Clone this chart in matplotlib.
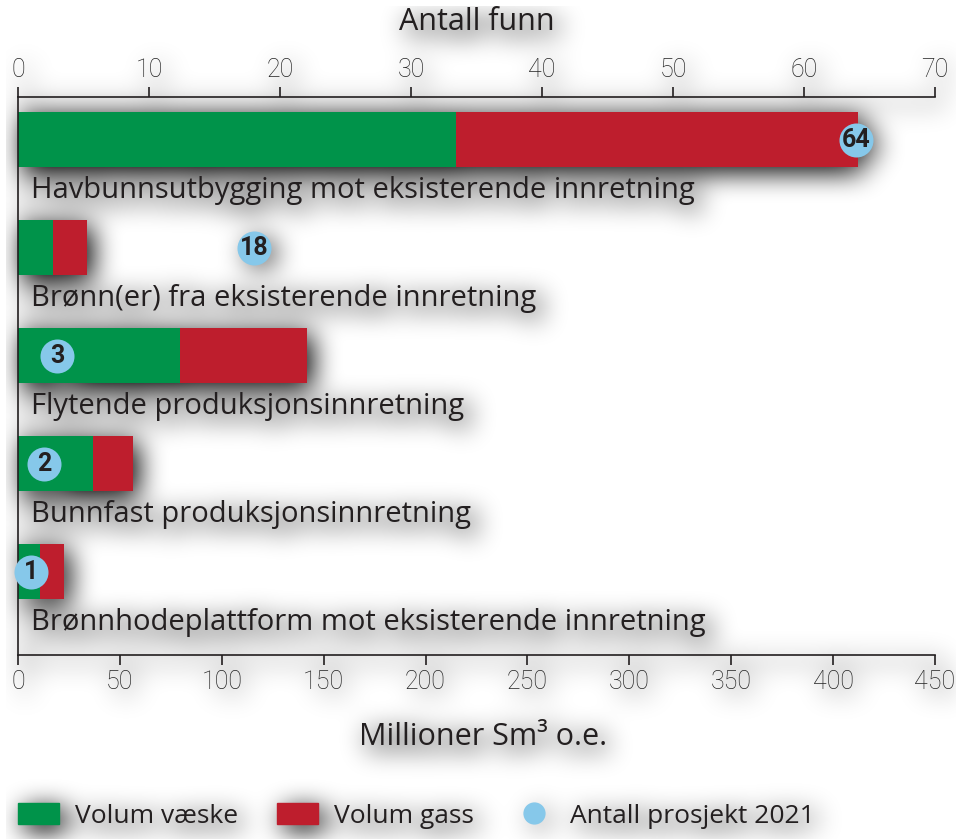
import numpy as np
import matplotlib
matplotlib.use('Agg')
import matplotlib.pyplot as plt
from matplotlib.patches import Patch
from matplotlib.lines import Line2D

# Data lest av figuren
kategorier = ['Havbunnsutbygging mot eksisterende innretning',
              'Brønn(er) fra eksisterende innretning',
              'Flytende produksjonsinnretning',
              'Bunnfast produksjonsinnretning',
              'Brønnhodeplattform mot eksisterende innretning']
volum_vaeske = [215, 17, 79.5, 37, 11]
volum_gass = [197, 17, 62.5, 19.5, 11.5]
antall_prosjekt = [64, 18, 3, 2, 1]
ticks_volum = list(range(0, 451, 50))
ticks_funn = list(range(0, 71, 10))

gronn = '#00934a'
rod = '#be1e2d'
bla = '#86c8ea'
mork = '#231f20'

tekst_font = ['Open Sans', 'DejaVu Sans']
tall_font = ['Roboto', 'DejaVu Sans']

fig = plt.figure(figsize=(9.56, 8.39), dpi=100)
fig.patch.set_facecolor('white')
ax = fig.add_axes([18 / 956, 1 - 655 / 839, 917 / 956, 558 / 839])
ax.set_facecolor('none')

y = np.arange(len(kategorier))
ax.barh(y, volum_vaeske, height=0.51, color=gronn, zorder=2)
ax.barh(y, volum_gass, left=volum_vaeske, height=0.51, color=rod, zorder=2)
for i, k in enumerate(kategorier):
    ax.text(6.5, i + 0.47, k, va='center', ha='left', fontsize=21,
            family=tekst_font, color=mork)

ax.set_xlim(0, 450)
ax.set_ylim(4.77, -0.394)
ax.set_yticks([])
ax.set_xticks(ticks_volum)
ax.spines['right'].set_visible(False)
ax.spines['top'].set_visible(False)
for s in ['left', 'bottom']:
    ax.spines[s].set_linewidth(1.2)
    ax.spines[s].set_color(mork)
ax.tick_params(axis='x', length=7, width=1.2, color=mork, pad=4,
               labelsize=18, labelcolor='#222222')
for t in ax.get_xticklabels():
    t.set_family(tall_font)
    t.set_fontweight('light')

ax2 = ax.twiny()
ax2.set_xlim(0, 70)
ax2.set_xticks(ticks_funn)
ax2.spines['right'].set_visible(False)
ax2.spines['left'].set_visible(False)
ax2.spines['bottom'].set_visible(False)
ax2.spines['top'].set_linewidth(1.2)
ax2.spines['top'].set_color(mork)
ax2.tick_params(axis='x', length=7, width=1.2, color=mork, pad=4,
                labelsize=18, labelcolor='#222222')
for t in ax2.get_xticklabels():
    t.set_family(tall_font)
    t.set_fontweight('light')

ax2.scatter(antall_prosjekt, y, s=600, color=bla, zorder=5, clip_on=False,
            linewidths=0)
for i, n in enumerate(antall_prosjekt):
    ax2.text(n, i, str(n), ha='center', va='center', fontsize=18,
             fontweight='bold', family=tall_font, color=mork, zorder=6)

fig.text(477 / 956, 1 - 22 / 839, 'Antall funn', ha='center', va='center',
         fontsize=22, family=tekst_font, color=mork)
fig.text(483 / 956, 1 - 737 / 839, 'Millioner Sm³ o.e.', ha='center',
         va='center', fontsize=22, family=tekst_font, color=mork)

handles = [Patch(color=gronn), Patch(color=rod),
           Line2D([], [], marker='o', ls='', ms=15, color=bla)]
fig.legend(handles, ['Volum væske', 'Volum gass', 'Antall prosjekt 2021'],
           loc='center left', bbox_to_anchor=(18 / 956, 1 - 816 / 839),
           ncol=3, frameon=False, prop={'family': tekst_font, 'size': 19},
           handlelength=1.55, handleheight=0.85, handletextpad=0.6,
           columnspacing=1.5, labelcolor=mork, borderpad=0,
           borderaxespad=0)

# uskarp skygge under alt
fig.canvas.draw()
bilde = np.asarray(fig.canvas.buffer_rgba()).astype(float) / 255
m = 1 - bilde[..., :3].mean(axis=2)


def box(a, r, axis):
    a = np.moveaxis(a, axis, 0)
    p = np.pad(a, ((r + 1, r), (0, 0)))
    c = np.cumsum(p, axis=0)
    out = (c[2 * r + 1:] - c[:-2 * r - 1]) / (2 * r + 1)
    return np.moveaxis(out, 0, axis)


for _ in range(3):
    m = box(m, 12, 0)
    m = box(m, 12, 1)
dy, dx = 6, 6
flytt = np.zeros_like(m)
flytt[dy:, dx:] = m[:-dy, :-dx]
skygge = np.zeros(bilde.shape)
skygge[..., 3] = np.clip(flytt * 1.5, 0, 0.8)
fig.figimage(skygge, xo=0, yo=0, origin='upper', zorder=-1)

fig.savefig('out.png', dpi=100, facecolor='white')
